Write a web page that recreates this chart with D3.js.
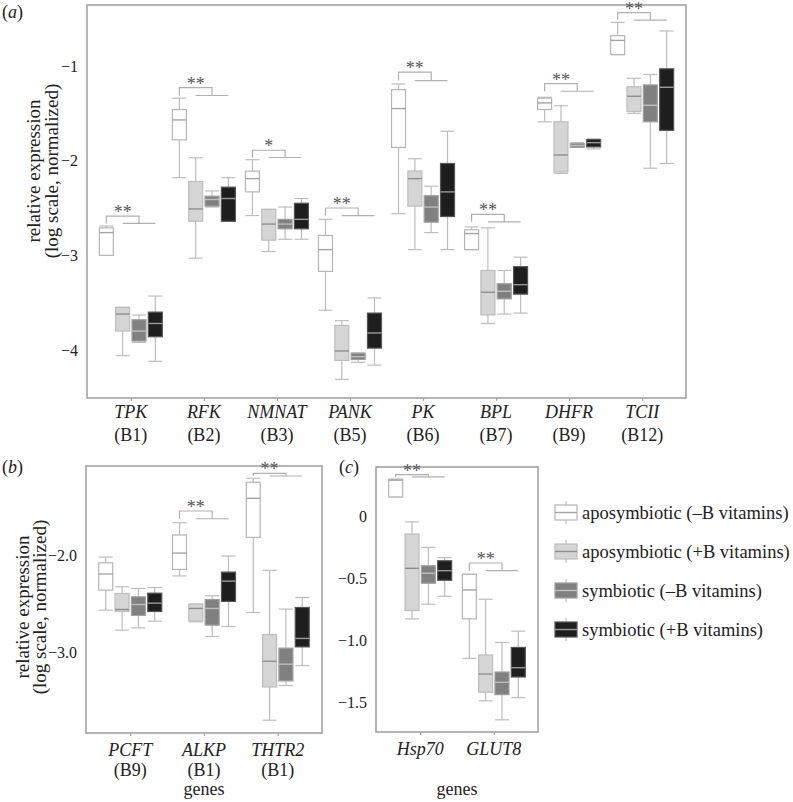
<!DOCTYPE html>
<html><head><meta charset="utf-8">
<script src="https://cdn.jsdelivr.net/npm/d3@7"></script>
<style>body{margin:0}</style>
</head><body>
<svg id="s" width="793" height="802"></svg>
<script>
// ---------- data ----------
const groups = ["aposymbiotic (–B vitamins)", "aposymbiotic (+B vitamins)", "symbiotic (–B vitamins)", "symbiotic (+B vitamins)"];

// panel (a)
const genesA = ["TPK", "RFK", "NMNAT", "PANK", "PK", "BPL", "DHFR", "TCII"];
const vitA = ["(B1)", "(B2)", "(B3)", "(B5)", "(B6)", "(B7)", "(B9)", "(B12)"];
// each gene: four boxes [low whisker, q1, median, q3, high whisker]
const boxesA = [
  [[-3.00, -3.00, -2.76, -2.71, -2.69], [-4.06, -3.80, -3.62, -3.55, -3.55], [-3.92, -3.905, -3.80, -3.68, -3.63], [-4.12, -3.86, -3.72, -3.60, -3.43]],
  [[-2.18, -1.78, -1.57, -1.46, -1.34], [-3.03, -2.64, -2.51, -2.22, -1.97], [-2.49, -2.48, -2.41, -2.375, -2.32], [-2.64, -2.64, -2.40, -2.28, -2.18]],
  [[-2.58, -2.33, -2.19, -2.11, -1.99], [-2.96, -2.84, -2.67, -2.515, -2.515], [-2.83, -2.72, -2.67, -2.62, -2.49], [-2.83, -2.72, -2.62, -2.45, -2.40]],
  [[-3.58, -3.17, -2.94, -2.79, -2.62], [-4.31, -4.11, -4.01, -3.74, -3.69], [-4.13, -4.10, -4.07, -4.035, -4.03], [-4.16, -3.98, -3.82, -3.61, -3.45]],
  [[-2.56, -1.86, -1.45, -1.25, -1.19], [-2.94, -2.48, -2.19, -2.11, -1.98], [-2.76, -2.65, -2.49, -2.37, -2.27], [-2.94, -2.59, -2.33, -2.03, -1.69]],
  [[-2.94, -2.94, -2.77, -2.73, -2.70], [-3.72, -3.63, -3.39, -3.16, -2.71], [-3.62, -3.46, -3.38, -3.30, -3.16], [-3.61, -3.41, -3.31, -3.12, -3.02]],
  [[-1.59, -1.46, -1.39, -1.34, -1.33], [-2.135, -2.12, -1.94, -1.59, -1.42], [-1.86, -1.858, -1.84, -1.82, -1.81], [-1.876, -1.855, -1.81, -1.777, -1.77]],
  [[-0.88, -0.88, -0.73, -0.68, -0.54], [-1.50, -1.48, -1.32, -1.22, -1.13], [-2.08, -1.59, -1.415, -1.20, -1.09], [-2.03, -1.68, -1.225, -1.03, -0.63]]
];
const sigTopA = [-2.586, -1.228, -1.89, -2.50, -1.066, -2.568, -1.186, -0.437];
const sigLowA = [-2.663, -1.312, -1.967, -2.58, -1.154, -2.646, -1.267, -0.515];
const sigLabA = ["**", "**", "*", "**", "**", "**", "**", "**"];
const ticksA = [-4, -3, -2, -1];

// panel (b)
const genesB = ["PCFT", "ALKP", "THTR2"];
const vitB = ["(B9)", "(B1)", "(B1)"];
const boxesB = [
  [[-2.566, -2.357, -2.19, -2.073, -2.014], [-2.774, -2.58, -2.559, -2.392, -2.323], [-2.75, -2.621, -2.507, -2.427, -2.34], [-2.68, -2.58, -2.493, -2.389, -2.33]],
  [[-2.21, -2.142, -1.972, -1.784, -1.656], [-2.687, -2.677, -2.548, -2.503, -2.503], [-2.84, -2.722, -2.548, -2.455, -2.416], [-2.736, -2.475, -2.264, -2.17, -2.003]],
  [[-2.59, -1.808, -1.402, -1.235, -1.194], [-3.711, -3.365, -3.097, -2.819, -2.152], [-3.35, -3.302, -3.128, -2.961, -2.555], [-3.142, -2.948, -2.86, -2.538, -2.434]]
];
const sigTopB = [null, -1.534, -1.142];
const sigLowB = [null, -1.615, -1.17];
const sigLabB = ["", "**", "**"];
const ticksB = [-3.0, -2.0];

// panel (c)
const genesC = ["Hsp70", "GLUT8"];
const boxesC = [
  [[0.155, 0.155, 0.29, 0.297, 0.297], [-0.827, -0.76, -0.42, -0.144, -0.046], [-0.709, -0.54, -0.46, -0.399, -0.251], [-0.645, -0.516, -0.439, -0.359, -0.334]],
  [[-1.145, -0.827, -0.594, -0.468, -0.468], [-1.487, -1.418, -1.271, -1.118, -0.669], [-1.64, -1.437, -1.338, -1.255, -1.017], [-1.461, -1.295, -1.22, -1.057, -0.926]]
];
const sigTopC = [0.334, -0.377];
const sigLowC = [0.316, -0.439];
const sigLabC = ["**", "**"];
const ticksC = [-1.5, -1.0, -0.5, 0];

// ---------- styles ----------
const fills = ["#ffffff", "#d5d5d5", "#808080", "#1e1e1e"];
const strokes = ["#b5b5b5", "#bdbdbd", "#a0a0a0", "#555555"];
const medCols = ["#a5a5a5", "#8e8e8e", "#bdbdbd", "#9a9a9a"];
const whiskCol = "#bdbdbd";
const frameCol = "#a3a3a3";
const BW = 14;
const FONT = "Liberation Serif";
const TXT = "#222";

const svg = d3.select("#s");
const fmtMinus = s => s.replace("-", "\u2212");
function txt(sel) {
  return sel.append("text").attr("font-family", FONT).style("font-family", FONT).attr("fill", TXT);
}

function drawPanel(p) {
  const g = svg.append("g");
  const x = d3.scalePoint().domain(p.genes).range([p.left, p.right]).padding(0.6);
  const y = d3.scaleLinear().domain(p.domain).range([p.bottom, p.top]);
  const xg = d3.scalePoint().domain(groups).range([-24.5, 24.5]);

  g.append("rect").attr("x", p.left).attr("y", p.top)
    .attr("width", p.right - p.left).attr("height", p.bottom - p.top)
    .attr("fill", "none").attr("stroke", frameCol).attr("stroke-width", 1.6);

  // y axis
  const ya = d3.axisLeft(y).tickValues(p.ticks).tickSize(0).tickPadding(9)
    .tickFormat(d => fmtMinus(p.fmt(d)));
  const yg = g.append("g").attr("transform", `translate(${p.left},0)`).call(ya);
  yg.attr("font-family", FONT).attr("font-size", 16);
  yg.select(".domain").remove();
  yg.selectAll("text").attr("font-family", FONT).style("font-family", FONT)
    .attr("font-size", 16).attr("fill", TXT);

  // x axis ticks
  const xa = d3.axisBottom(x).tickSize(3).tickFormat("");
  const xgp = g.append("g").attr("transform", `translate(0,${p.bottom})`).call(xa);
  xgp.select(".domain").remove();
  xgp.selectAll("line").attr("stroke", frameCol).attr("stroke-width", 1.2);

  // category labels
  p.genes.forEach((gn, i) => {
    txt(g).attr("x", x(gn)).attr("y", p.bottom + p.lab1)
      .attr("text-anchor", "middle").attr("font-size", 18).attr("font-style", "italic").text(gn);
    if (p.vits) {
      txt(g).attr("x", x(gn)).attr("y", p.bottom + p.lab2)
        .attr("text-anchor", "middle").attr("font-size", 18).text(p.vits[i]);
    }
  });

  // boxes
  p.genes.forEach((gn, i) => {
    groups.forEach((gr, j) => {
      const [lo, q1, med, q3, hi] = p.boxes[i][j];
      const cx = x(gn) + xg(gr);
      const bg = g.append("g");
      bg.append("line").attr("x1", cx).attr("x2", cx).attr("y1", y(hi)).attr("y2", y(q3))
        .attr("stroke", whiskCol).attr("stroke-width", 1.2);
      bg.append("line").attr("x1", cx).attr("x2", cx).attr("y1", y(q1)).attr("y2", y(lo))
        .attr("stroke", whiskCol).attr("stroke-width", 1.2);
      [hi, lo].forEach(v => {
        bg.append("line").attr("x1", cx - BW / 2).attr("x2", cx + BW / 2).attr("y1", y(v)).attr("y2", y(v))
          .attr("stroke", whiskCol).attr("stroke-width", 1.2);
      });
      bg.append("rect").attr("x", cx - BW / 2).attr("y", y(q3)).attr("width", BW)
        .attr("height", Math.max(1, y(q1) - y(q3)))
        .attr("fill", fills[j]).attr("stroke", strokes[j]).attr("stroke-width", 1.2);
      bg.append("line").attr("x1", cx - BW / 2).attr("x2", cx + BW / 2).attr("y1", y(med)).attr("y2", y(med))
        .attr("stroke", medCols[j]).attr("stroke-width", 1.4);
    });

    if (p.sigTop[i] != null) {
      const c0 = x(gn) + xg(groups[0]);
      const c1 = x(gn) + xg(groups[1]);
      const c3 = x(gn) + xg(groups[3]);
      const mid = (c1 + c3) / 2;
      const yt = y(p.sigTop[i]), yl = y(p.sigLow[i]);
      g.append("path").attr("d", `M${c0},${yl}L${c0},${yt}L${mid},${yt}L${mid},${yl}M${c1},${yl}L${c3},${yl}`)
        .attr("fill", "none").attr("stroke", "#b0b0b0").attr("stroke-width", 1.2);
      txt(g).attr("x", (c0 + mid) / 2).attr("y", yt + 2).attr("text-anchor", "middle")
        .attr("font-size", 18).attr("fill", "#555").text(p.sigLab[i]);
    }
  });

  if (p.ylab) {
    [["relative expression", p.ylx1], ["(log scale, normalized)", p.ylx2]].forEach(([t, xx]) => {
      txt(g).attr("transform", `translate(${xx},${p.ylcy}) rotate(-90)`)
        .attr("text-anchor", "middle").attr("font-size", 19).text(t);
    });
  }
  if (p.genesLab) {
    txt(g).attr("x", (p.left + p.right) / 2).attr("y", p.genesLab)
      .attr("text-anchor", "middle").attr("font-size", 18).text("genes");
  }
  const pl = txt(g).attr("x", p.letX).attr("y", p.letY).attr("font-size", 18);
  pl.append("tspan").text("(");
  pl.append("tspan").attr("font-style", "italic").text(p.letter);
  pl.append("tspan").text(")");
}

drawPanel({genes: genesA, vits: vitA, boxes: boxesA, sigTop: sigTopA, sigLow: sigLowA, sigLab: sigLabA,
  ticks: ticksA, fmt: d3.format("d"), domain: [-4.507, -0.356],
  left: 87, right: 686, top: 5, bottom: 398, lab1: 20, lab2: 43,
  ylab: true, ylx1: 40, ylx2: 58, ylcy: 171, letter: "a", letX: 2, letY: 18});

drawPanel({genes: genesB, vits: vitB, boxes: boxesB, sigTop: sigTopB, sigLow: sigLowB, sigLab: sigLabB,
  ticks: ticksB, fmt: d3.format(".1f"), domain: [-3.844, -1.066],
  left: 86, right: 322, top: 466, bottom: 733, lab1: 23, lab2: 43, genesLab: 795,
  ylab: true, ylx1: 29, ylx2: 46, ylcy: 607, letter: "b", letX: 2, letY: 473});

drawPanel({genes: genesC, vits: null, boxes: boxesC, sigTop: sigTopC, sigLow: sigLowC, sigLab: sigLabC,
  ticks: ticksC, fmt: d => d === 0 ? "0" : d3.format(".1f")(d), domain: [-1.738, 0.396],
  left: 376, right: 538, top: 467, bottom: 732, lab1: 23, genesLab: 795,
  ylab: false, letter: "c", letX: 339, letY: 473});

// ---------- legend ----------
const leg = svg.append("g");
const legY = d3.scalePoint().domain(groups).range([512.5, 629.5]);
groups.forEach((gr, j) => {
  const cy = legY(gr), kx = 555, kw = 22, kh = 15;
  leg.append("line").attr("x1", kx + kw / 2).attr("x2", kx + kw / 2).attr("y1", cy - kh / 2 - 4).attr("y2", cy + kh / 2 + 4)
    .attr("stroke", whiskCol).attr("stroke-width", 1.2);
  leg.append("rect").attr("x", kx).attr("y", cy - kh / 2).attr("width", kw).attr("height", kh)
    .attr("fill", fills[j]).attr("stroke", strokes[j]).attr("stroke-width", 1.2);
  leg.append("line").attr("x1", kx).attr("x2", kx + kw).attr("y1", cy).attr("y2", cy)
    .attr("stroke", medCols[j]).attr("stroke-width", 1.4);
  txt(leg).attr("x", 582).attr("y", cy + 6).attr("font-size", 18.5).text(gr);
});
</script>
</body></html>
